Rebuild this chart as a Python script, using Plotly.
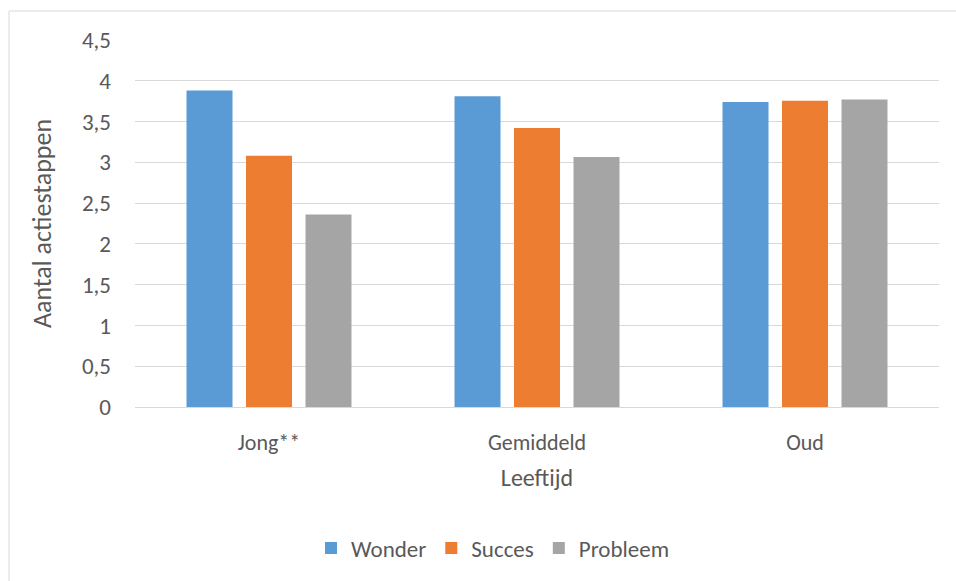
import plotly.graph_objects as go

categories = ["Jong**", "Gemiddeld", "Oud"]
wonder = [3.88, 3.81, 3.74]
succes = [3.08, 3.42, 3.755]
probleem = [2.36, 3.065, 3.77]
series_names = ["Wonder", "Succes", "Probleem"]
colors = ["#5B9BD5", "#ED7D31", "#A5A5A5"]
y_ticks = [0, 0.5, 1, 1.5, 2, 2.5, 3, 3.5, 4, 4.5]
y_ticktext = ["0", "0,5", "1", "1,5", "2", "2,5", "3", "3,5", "4", "4,5"]

FONT = "Carlito, Lato, sans-serif"
TXT = "#595959"

fig = go.Figure()
for name, vals, col in zip(series_names, [wonder, succes, probleem], colors):
    fig.add_trace(go.Bar(x=categories, y=vals, name=name, marker=dict(color=col, line=dict(width=0))))

W, H = 956, 581
ml, mr, mt, mb = 135, 17, 40, 174
pw = W - ml - mr
ph = H - mt - mb

def px_x(p):
    return (p - ml) / pw

def px_y(p):
    return 1 - (p - mt) / ph

fig.update_layout(
    width=W, height=H,
    margin=dict(l=ml, r=mr, t=mt, b=mb),
    paper_bgcolor="white", plot_bgcolor="white",
    barmode="group", bargap=0.334, bargroupgap=0.227,
    font=dict(family=FONT, color=TXT, size=21),
    showlegend=True,
    legend=dict(orientation="h", x=px_x(493), xanchor="center", y=px_y(548), yanchor="middle",
                font=dict(size=23, color=TXT), itemsizing="constant", traceorder="normal",
                itemwidth=30),
    xaxis=dict(showgrid=False, showline=True, linecolor="#d9d9d9", linewidth=1,
               ticks="", ticklabelstandoff=16, tickfont=dict(size=22, color=TXT),
               title=dict(text="Leeftijd", font=dict(size=24, color=TXT), standoff=13),
               fixedrange=True),
    yaxis=dict(range=[0, 4.5], tickvals=y_ticks, ticktext=y_ticktext,
               showgrid=True, gridcolor="#d9d9d9", gridwidth=1, zeroline=False,
               showline=False, ticks="", ticklabelstandoff=23,
               tickfont=dict(size=23, color=TXT),
               title=dict(text="Aantal actiestappen", font=dict(size=26, color=TXT), standoff=22)),
    shapes=[dict(type="rect", xref="paper", yref="paper",
                 x0=px_x(9), x1=px_x(990), y0=px_y(620), y1=px_y(11),
                 line=dict(color="#d9d9d9", width=1), fillcolor="rgba(0,0,0,0)", layer="below")],
)

fig.write_html("out.html")
